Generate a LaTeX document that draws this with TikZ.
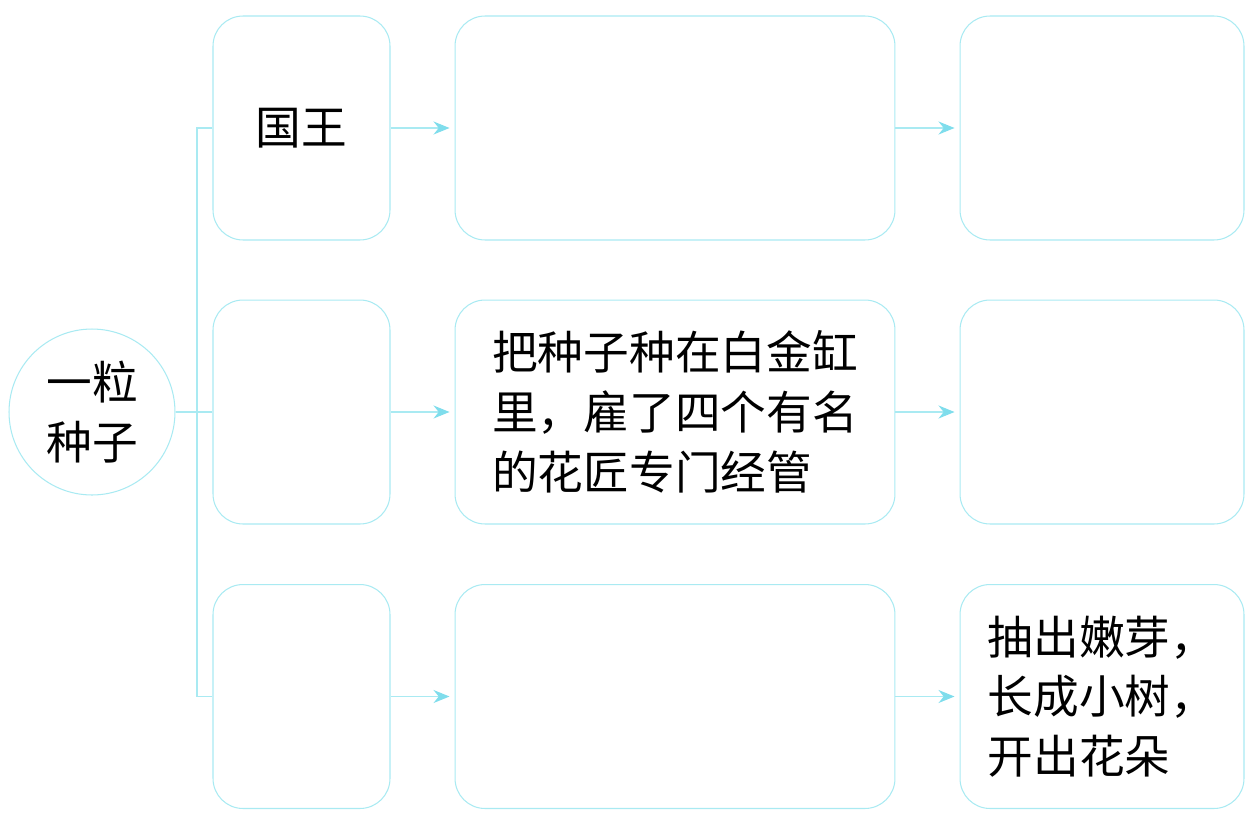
\documentclass[tikz,border=0pt]{standalone}
\usepackage{fontspec}
\usepackage{tikz}
\usetikzlibrary{arrows.meta}
\newfontfamily\cjk{Noto Sans CJK SC}
\definecolor{boxCyan}{HTML}{A9EAF2}
\definecolor{tipCyan}{HTML}{7FDDEC}

\begin{document}
\begin{tikzpicture}[x=0.02cm, y=-0.02cm,
		every node/.style={font={\cjk\fontsize{26}{34}\selectfont}}]
			\tikzset{kuang/.style={draw=boxCyan, line width=0.6pt, rounded corners=0.6cm,
				minimum height=4.48cm, align=left, inner sep=0pt},
				lian/.style={draw=boxCyan, line width=0.6pt},
				jiantou/.style={lian, shorten >=0.1cm,
					-{Stealth[length=0.32cm,width=0.26cm,color=tipCyan,fill=tipCyan]}}}
			\useasboundingbox (0,0) rectangle (1254,825);
			\node[circle, draw=boxCyan, line width=0.6pt, minimum size=3.32cm, inner sep=0pt,
				align=center] (seed) at (92,412) {一粒\\种子};
			% first column
			\node[kuang, minimum width=3.54cm] (who1) at (301.5,128) {国王};
			\node[kuang, minimum width=3.54cm] (who2) at (301.5,412) {};
			\node[kuang, minimum width=3.54cm] (who3) at (301.5,696.5) {};
			% second column
			\node[kuang, minimum width=8.8cm] (act1) at (675,128) {};
			\node[kuang, minimum width=8.8cm] (act2) at (675,412)
				{把种子种在白金缸\\里，雇了四个有名\\的花匠专门经管};
			\node[kuang, minimum width=8.8cm] (act3) at (675,696.5) {};
			% third column
			\node[kuang, minimum width=5.68cm] (res1) at (1102,128) {};
			\node[kuang, minimum width=5.68cm] (res2) at (1102,412) {};
			\node[kuang, minimum width=5.68cm] (res3) at (1102,696.5)
				{抽出嫩芽，\\长成小树，\\开出花朵};
			% fork from the seed
			\coordinate (fork) at (197,412);
			\draw[lian] (seed.east) -- (who2.west);
			\draw[lian] (who1.west) -| (fork) |- (who3.west);
			\foreach \r in {1,2,3} {
				\draw[jiantou] (who\r.east) -- (act\r.west);
				\draw[jiantou] (act\r.east) -- (res\r.west);
			}
		\end{tikzpicture}
\end{document}
